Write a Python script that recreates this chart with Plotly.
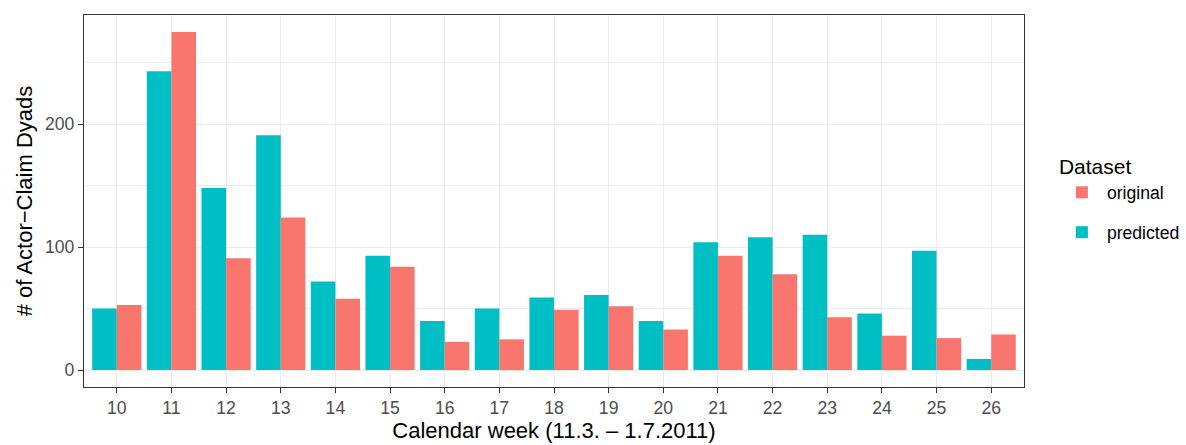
import plotly.graph_objects as go

weeks = list(range(10, 27))
predicted = [50, 243, 148, 191, 72, 93, 40, 50, 59, 61, 40, 104, 108, 110, 46, 97, 9]
original = [53, 275, 91, 124, 58, 84, 23, 25, 49, 52, 33, 93, 78, 43, 28, 26, 29]
tick_labels = [str(w) for w in weeks]
y_ticks = [0, 100, 200]

TEAL = "#00BFC4"
RED = "#F8766D"
FONT = "Liberation Sans, Arial, Helvetica, sans-serif"

fig = go.Figure()
fig.add_trace(go.Bar(x=weeks, y=predicted, name="predicted", legendgroup="p", legendrank=2,
                     marker=dict(color=TEAL, line=dict(width=0))))
fig.add_trace(go.Bar(x=weeks, y=original, name="original", legendgroup="o", legendrank=1,
                     marker=dict(color=RED, line=dict(width=0))))

fig.update_layout(
    width=1186, height=445,
    margin=dict(l=84, r=162, t=15, b=58, autoexpand=False),
    barmode="group", bargap=0.1, bargroupgap=0,
    plot_bgcolor="white", paper_bgcolor="white",
    font=dict(family=FONT, color="black"),
    legend=dict(
        title=dict(text="Dataset", font=dict(size=21, color="black")),
        traceorder="grouped",
        font=dict(size=17.6, color="black"),
        x=1.035, xanchor="left", y=0.645, yanchor="top",
        itemwidth=40, tracegroupgap=14,
    ),
    xaxis=dict(
        range=[9.4, 26.6], tickmode="array", tickvals=weeks, ticktext=tick_labels,
        showgrid=True, gridcolor="#EBEBEB", gridwidth=1.2,
        ticks="outside", ticklen=5, tickcolor="#333333", tickwidth=1.1,
        tickfont=dict(size=17.6, color="#4D4D4D"),
        showline=True, linecolor="#333333", linewidth=1.2, mirror=True,
        zeroline=False, automargin=True,
        title=dict(text="Calendar week (11.3. \u2013 1.7.2011)", font=dict(size=22, color="black"), standoff=4),
    ),
    yaxis=dict(
        range=[-13.75, 288.75], tickmode="array", tickvals=y_ticks, ticktext=[str(v) for v in y_ticks],
        showgrid=True, gridcolor="#EBEBEB", gridwidth=1.2,
        minor=dict(tickmode="array", tickvals=[50, 150, 250], showgrid=True, gridcolor="#EBEBEB", gridwidth=0.6, ticks=""),
        ticks="outside", ticklen=5, tickcolor="#333333", tickwidth=1.1,
        tickfont=dict(size=17.6, color="#4D4D4D"),
        showline=True, linecolor="#333333", linewidth=1.2, mirror=True,
        zeroline=False, automargin=True,
        title=dict(text="# of Actor\u2212Claim Dyads", font=dict(size=22, color="black"), standoff=6),
    ),
)

# remove the browser's default 8px body margin so the figure fills the window exactly
fig.write_html(
    "out.html",
    config={"displayModeBar": False},
    post_script="document.body.style.margin='0';document.body.style.overflow='hidden';",
)
